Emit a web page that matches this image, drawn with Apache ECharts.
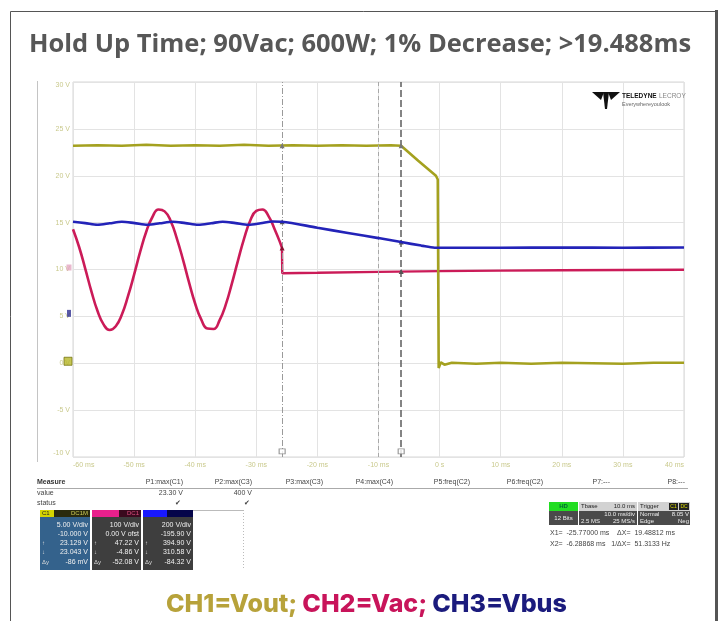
<!DOCTYPE html>
<html><head><meta charset="utf-8">
<script src="https://cdn.jsdelivr.net/npm/echarts@6/dist/echarts.min.js"></script>
<style>html,body{margin:0;padding:0;background:#fff}#c{width:720px;height:621px}</style>
</head><body><div id="c"></div>
<script>
// ---- text ----
const titleText = 'Hold Up Time; 90Vac; 600W; 1% Decrease; >19.488ms';
const xTickLabels = ['-60 ms','-50 ms','-40 ms','-30 ms','-20 ms','-10 ms','0 s','10 ms','20 ms','30 ms','40 ms'];
const yTickLabels = ['-10 V','-5 V','0 V','5 V','10 V','15 V','20 V','25 V','30 V'];

// ---- traces: [time ms, volts] ----
// CH1 Vout (5 V/div)
const vout = [[-60,23.2],[-56,23.25],[-52,23.2],[-48,23.3],[-44,23.2],[-40,23.25],[-36,23.2],[-32,23.3],[-28,23.2],[-24,23.25],[-20,23.2],[-16,23.25],[-12,23.2],[-8,23.25],[-6.3,23.2],[-3.5,21.6],[-0.6,20.0],[-0.3,19.6],[-0.15,-0.5],[0.2,0.1],[0.8,-0.15],[2,0.05],[6,-0.05],[10,0.05],[15,-0.05],[20,0.05],[25,0.0],[30,-0.05],[35,0.05],[40,0.05]];
// CH2 Vac (100 V/div), before and after the drop-out
const vacBefore = [[-60,86],[-59,48],[-58,2],[-57,-46],[-56,-88],[-55,-117],[-54,-129],[-53,-121],[-52,-96],[-51,-57],[-50,-11],[-49,38],[-48,81],[-47,112],[-46,128],[-45,124],[-44,103],[-43,66],[-42,21],[-41,-28],[-40,-73],[-39,-107],[-38,-126],[-37,-127],[-36,-108],[-35,-75],[-34,-30],[-33,19],[-32,66],[-31,104],[-30,125],[-29,128],[-28,114],[-27,86],[-26,54],[-25.8,46]];
const vacAfter = [[-25.8,46],[-25.75,-8],[-20,-7],[-10,-5],[0,-3.5],[10,-2.5],[20,-1.5],[30,-1],[40,-0.5]];
// CH3 Vbus (200 V/div)
const vbus = [[-60,404],[-58,398],[-56,391],[-54,397],[-52,404],[-49.9,398],[-47.8,391],[-45.8,397],[-43.7,404],[-41.6,398],[-39.5,391],[-37.4,397],[-35.5,404],[-33.4,398],[-31.3,391],[-29.3,397],[-27.3,405],[-25.8,404],[-20,378],[-15,356],[-10,334],[-6.3,317],[-3,302],[-0.8,293],[5,293],[10,293],[20,294],[30,293],[40,294]];
// cursors
const cursorX = [-25.77, -6.28868];

// ---- scope readout text ----
const measureHeads = ['P1:max(C1)','P2:max(C3)','P3:max(C3)','P4:max(C4)','P5:freq(C2)','P6:freq(C2)','P7:---','P8:---'];
const measureRight = [183,252,323,393,470,543,610,685];
const measureVals = ['23.30 V','400 V'];
const ch1Rows = ['5.00 V/div','-10.000 V','23.129 V','23.043 V','-86 mV'];
const ch2Rows = ['100 V/div','0.00 V ofst','47.22 V','-4.86 V','-52.08 V'];
const ch3Rows = ['200 V/div','-195.90 V','394.90 V','310.58 V','-84.32 V'];
const cursorRows = ['X1=  -25.77000 ms    \u0394X=  19.48812 ms','X2=  -6.28868 ms   1/\u0394X=  51.3133 Hz'];

const FF = 'Liberation Sans';
function txt(x,y,s,o){o=o||{};return {type:'text',x:x,y:y,silent:true,z:10,style:{text:s,fontSize:o.fs||7,fill:o.fill||'#333',fontFamily:FF,fontWeight:o.fw||'normal',align:o.align||'left',verticalAlign:'middle'}};}
function box(x,y,w,h,fill,stroke,dash){return {type:'rect',silent:true,z:5,shape:{x:x,y:y,width:w,height:h},style:{fill:fill||'none',stroke:stroke||null,lineWidth:1,lineDash:dash||null}};}
function line(x1,y1,x2,y2,c,w){return {type:'line',silent:true,z:5,shape:{x1:x1,y1:y1,x2:x2,y2:y2},style:{stroke:c,lineWidth:w||1}};}

const g = [];
// outer frame
g.push(line(10.5,11.5,716,11.5,'#555',1));
g.push(line(10.5,11.5,10.5,621,'#555',1));
g.push(line(716.5,10,716.5,621,'#555',3));
// scope screen left edge
g.push(line(37.5,81,37.5,462,'#c4c4c4',1));
// logo
g.push({type:'polygon',silent:true,z:10,shape:{points:[[592,92],[604,92],[601,100]]},style:{fill:'#111'}});
g.push({type:'polygon',silent:true,z:10,shape:{points:[[608,92],[620,92],[611,100]]},style:{fill:'#111'}});
g.push({type:'polygon',silent:true,z:10,shape:{points:[[603,92],[609,92],[607,109],[605,109]]},style:{fill:'#111'}});
g.push(txt(622,96,'TELEDYNE',{fs:6.5,fw:'bold',fill:'#111'}));
g.push(txt(659,96,'LECROY',{fs:6.5,fill:'#888'}));
g.push(txt(622,104,'Everywhereyoulook',{fs:5.5,fill:'#666'}));
// measure table
g.push(txt(37,482,'Measure',{fs:7,fw:'bold'}));
measureHeads.forEach((h,i)=>g.push(txt(measureRight[i],482,h,{fs:7,align:'right',fill:'#444'})));
g.push(line(37,488.5,688,488.5,'#aaa',1));
g.push(txt(37,493,'value',{fs:7,fill:'#444'}));
g.push(txt(37,503,'status',{fs:7,fill:'#444'}));
measureVals.forEach((v,i)=>{g.push(txt(measureRight[i],493,v,{fs:7,align:'right',fill:'#444'}));g.push(txt(measureRight[i]-2,503,'\u2714',{fs:7,align:'right',fill:'#444'}));});
// channel boxes
const chBoxes = [
  {x:40,w:50,head:'#d4d400',headW:14,dark:'#2a2a0e',darkTxt:'#cccc55',lab:'C1',tag:'DC1M',body:'#34628c',rows:ch1Rows},
  {x:92,w:49,head:'#e8208c',headW:27,dark:'#3a0a1e',darkTxt:'#e05080',lab:'',tag:'DC1',body:'#3e3e3e',rows:ch2Rows},
  {x:143,w:50,head:'#1818ff',headW:24,dark:'#05054a',darkTxt:'#6060ff',lab:'',tag:'',body:'#3e3e3e',rows:ch3Rows}
];
const rowY = [525,534,543,552,562];
chBoxes.forEach(b=>{
  g.push(box(b.x,510,b.headW,7,b.head));
  g.push(box(b.x+b.headW,510,b.w-b.headW,7,b.dark));
  if(b.lab) g.push(txt(b.x+2,513.5,b.lab,{fs:6,fill:'#222'}));
  if(b.tag) g.push(txt(b.x+b.w-2,513.5,b.tag,{fs:6,fill:b.darkTxt,align:'right'}));
  g.push(box(b.x,517,b.w,53,b.body));
  b.rows.forEach((r,i)=>g.push(txt(b.x+b.w-2,rowY[i],r,{fs:7,fill:'#f0f0f0',align:'right'})));
  g.push(txt(b.x+2,rowY[2],'\u2191',{fs:6,fill:'#ddd'}));
  g.push(txt(b.x+2,rowY[3],'\u2193',{fs:6,fill:'#ddd'}));
  g.push(txt(b.x+2,rowY[4],'\u0394y',{fs:6,fill:'#ddd'}));
});
g.push(line(193,510.5,243,510.5,'#bbb',1));
g.push({type:'line',silent:true,z:5,shape:{x1:243.5,y1:510,x2:243.5,y2:570},style:{stroke:'#bbb',lineWidth:1,lineDash:[1,2]}});
// timebase / trigger
g.push(box(549,502,29,9,'#22dd22'));
g.push(txt(563.5,506.5,'HD',{fs:6,fill:'#063',align:'center',fw:'bold'}));
g.push(box(549,511,29,14,'#4a4a4a'));
g.push(txt(563.5,518,'12 Bits',{fs:6,fill:'#eee',align:'center'}));
g.push(box(579,502,58,9,'#d2d2d2'));
g.push(txt(581,506.5,'Tbase',{fs:6,fill:'#222'}));
g.push(txt(635,506.5,'10.0 ms',{fs:6,fill:'#222',align:'right'}));
g.push(box(579,511,58,14,'#4a4a4a'));
g.push(txt(635,514.5,'10.0 ms/div',{fs:6,fill:'#eee',align:'right'}));
g.push(txt(581,521.5,'2.5 MS',{fs:6,fill:'#eee'}));
g.push(txt(635,521.5,'25 MS/s',{fs:6,fill:'#eee',align:'right'}));
g.push(box(638,502,52,9,'#d2d2d2'));
g.push(txt(640,506.5,'Trigger',{fs:6,fill:'#222'}));
g.push(box(669,503,9,7,'#222')); g.push(box(679,503,10,7,'#222'));
g.push(txt(673.5,506.5,'C1',{fs:5,fill:'#dd0',align:'center'}));
g.push(txt(684,506.5,'DC',{fs:5,fill:'#dd0',align:'center'}));
g.push(box(638,511,52,14,'#4a4a4a'));
g.push(txt(640,514.5,'Normal',{fs:6,fill:'#eee'}));
g.push(txt(689,514.5,'8.05 V',{fs:6,fill:'#eee',align:'right'}));
g.push(txt(640,521.5,'Edge',{fs:6,fill:'#eee'}));
g.push(txt(689,521.5,'Neg',{fs:6,fill:'#eee',align:'right'}));
cursorRows.forEach((r,i)=>g.push(txt(550,533+i*11.5,r,{fs:7,fill:'#444'})));

const chart = echarts.init(document.getElementById('c'));
const labStyle = {fontSize:7,color:'#c9c98c',fontFamily:FF};
const cursorLine = (x,c,w,t)=>({xAxis:x,lineStyle:{color:c,width:w,type:t}});
const mkPts = (pts,c)=>({symbol:'triangle',symbolSize:5,silent:true,itemStyle:{color:c},label:{show:false},data:pts.map(p=>({coord:p}))});
chart.setOption({
  animation:false,
  backgroundColor:'#fff',
  title:[
    {text:titleText,left:'center',top:27,textStyle:{fontSize:25.5,fontWeight:'bold',color:'#575757',fontFamily:'Open Sans'}},
    {text:'{a|CH1=Vout;} {b|CH2=Vac;} {c|CH3=Vbus}',left:161,top:587,textStyle:{rich:{
      a:{color:'#b7a23a',fontSize:25,fontWeight:800,fontFamily:'Inter'},
      b:{color:'#c8145a',fontSize:25,fontWeight:800,fontFamily:'Inter'},
      c:{color:'#1b1b7d',fontSize:25,fontWeight:800,fontFamily:'Inter'}}}}
  ],
  grid:{left:73,top:82,width:611,height:375,show:true,borderColor:'#d6d6d6',borderWidth:1,outerBoundsMode:'none'},
  xAxis:{type:'value',min:-60,max:40,interval:10,
    axisLine:{show:false},axisTick:{show:false},
    splitLine:{show:true,lineStyle:{color:'#e3e3e3',width:1}},
    axisLabel:Object.assign({margin:5,alignMinLabel:'left',alignMaxLabel:'right',
      formatter:v=>xTickLabels[Math.round((v+60)/10)]},labStyle)},
  yAxis:[
    {type:'value',min:-10,max:30,interval:5,
      axisLine:{show:false},axisTick:{show:false},
      splitLine:{show:true,lineStyle:{color:'#e3e3e3',width:1}},
      axisLabel:Object.assign({margin:3,verticalAlignMaxLabel:'top',verticalAlignMinLabel:'bottom',
        formatter:v=>yTickLabels[Math.round((v+10)/5)]},labStyle)},
    {type:'value',min:-400,max:400,interval:100,show:false},
    {type:'value',min:-600,max:1000,interval:200,show:false}
  ],
  series:[
    {name:'Vac',type:'line',yAxisIndex:1,data:vacBefore,smooth:0.5,showSymbol:false,
      lineStyle:{color:'#cb1b58',width:2.6},z:3,
      markPoint:mkPts([[cursorX[0],46]],'#8a1030')},
    {name:'Vac ',type:'line',yAxisIndex:1,data:vacAfter,showSymbol:false,
      lineStyle:{color:'#cb1b58',width:2.4},z:3,
      markPoint:mkPts([[cursorX[1],-4.5]],'#555')},
    {name:'Vout',type:'line',yAxisIndex:0,data:vout,showSymbol:false,
      lineStyle:{color:'#a4a11f',width:2.6},z:4,
      markLine:{silent:true,symbol:'none',label:{show:false},data:[
        cursorLine(-10,'#a8a8a8',1,[4,3]),
        cursorLine(cursorX[0],'#9a9a9a',1,[6,2,1,2]),
        cursorLine(cursorX[1],'#666',1.6,[7,3])]},
      markPoint:mkPts([[cursorX[0],23.2],[cursorX[1],23.2]],'#777')},
    {name:'Vbus',type:'line',yAxisIndex:2,data:vbus,smooth:0.3,showSymbol:false,
      lineStyle:{color:'#2323b8',width:2.6},z:5,
      markPoint:mkPts([[cursorX[0],404],[cursorX[1],317]],'#555')},
    {name:'cursor marks',type:'scatter',yAxisIndex:0,data:cursorX.map(c=>[c,-9.4]),symbol:'rect',symbolSize:[6,5],
      itemStyle:{color:'#fff',borderColor:'#777',borderWidth:1},z:6,silent:true},
    {name:'g1',type:'scatter',yAxisIndex:0,data:[[-60,0]],symbol:'rect',symbolSize:[8,8],symbolOffset:[-5,-2],clip:false,
      itemStyle:{color:'#b6b628',borderColor:'#777711',borderWidth:1},z:6,silent:true},
    {name:'g2',type:'scatter',yAxisIndex:1,data:[[-60,0]],symbol:'rect',symbolSize:[5,6],symbolOffset:[-4,-2],clip:false,
      itemStyle:{color:'#e4a6c2'},z:6,silent:true},
    {name:'g3',type:'scatter',yAxisIndex:2,data:[[-60,0]],symbol:'rect',symbolSize:[4,7],symbolOffset:[-4,-3],clip:false,
      itemStyle:{color:'#303090'},z:6,silent:true}
  ],
  graphic:g
});
</script></body></html>
